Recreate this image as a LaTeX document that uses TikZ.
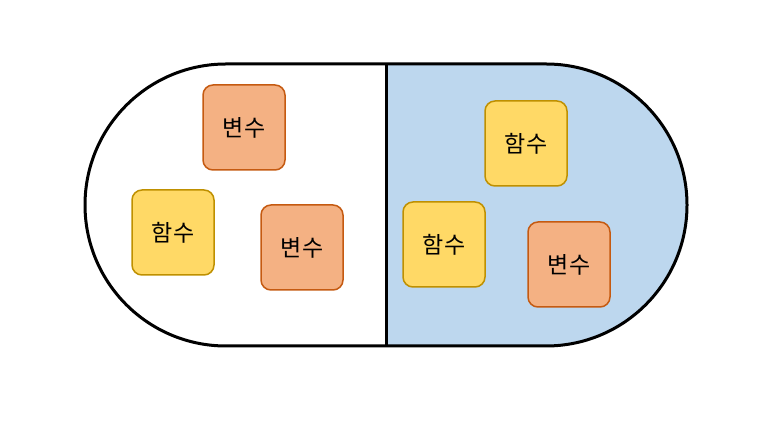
\documentclass[tikz,border=0pt]{standalone}
\usepackage{fontspec}
\newfontfamily\kofont{Noto Sans CJK KR}
\usepackage{tikz}
\usetikzlibrary{positioning}
\definecolor{varfill}{HTML}{F4B183}
\definecolor{vardraw}{HTML}{C55A11}
\definecolor{funfill}{HTML}{FFD966}
\definecolor{fundraw}{HTML}{BF9000}
\definecolor{rightfill}{HTML}{BDD7EE}
\newcommand{\boxwidth}{82pt}

\begin{document}
\begin{tikzpicture}[x=1pt, y=1pt, outer sep = 0pt]
\tikzstyle{basicbox}=[rectangle, line width=1.5pt, rounded corners=10pt,
                   minimum height=85pt, minimum width=\boxwidth, align=center,
                   font=\kofont\fontsize{23}{27}\selectfont]
\tikzstyle{varbox}=[basicbox, draw=vardraw, fill=varfill]
\tikzstyle{funbox}=[basicbox, draw=fundraw, fill=funfill]
\tikzstyle{hull}=[draw=black, line width=3pt]

\useasboundingbox (0,0) rectangle (762,422);

%%%%%%%%%%%%%%%%%%%%%%%%%%%%%%%%%
% capsule
%%%%%%%%%%%%%%%%%%%%%%%%%%%%%%%%%
    \coordinate (top) at (386,358);
    \coordinate (bottom) at (386,76);
    \fill[rightfill] (top) -- (546,358) arc (90:-90:141) -- (bottom) -- cycle;
    \draw[hull] (226,358) -- (546,358) arc (90:-90:141) -- (226,76) arc (270:90:141) -- cycle;
    \draw[hull] (top) -- (bottom);

%%%%%%%%%%%%%%%%%%%%%%%%%%%%%%%%%
% left half
%%%%%%%%%%%%%%%%%%%%%%%%%%%%%%%%%
    \node[varbox] (var1) at (244,294.5) {변수};
    \node[funbox] (fun1) at (173,189.5) {함수};
    \node[varbox] (var2) at (302,174.5) {변수};

%%%%%%%%%%%%%%%%%%%%%%%%%%%%%%%%%
% right half
%%%%%%%%%%%%%%%%%%%%%%%%%%%%%%%%%
    \node[funbox] (fun2) at (526,278.5) {함수};
    \node[funbox] (fun3) at (444,177.5) {함수};
    \node[varbox] (var3) at (569,157.5) {변수};

\end{tikzpicture}
\end{document}
